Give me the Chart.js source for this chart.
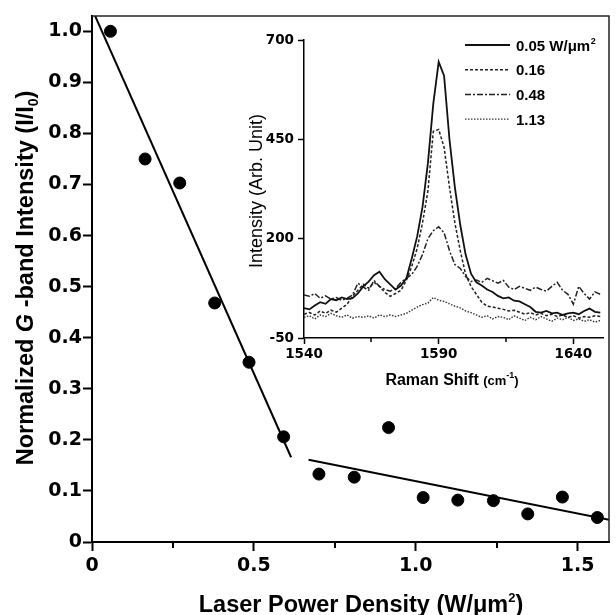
<!DOCTYPE html>
<html>
<head>
<meta charset="utf-8">
<script src="https://cdn.jsdelivr.net/npm/chart.js@4/dist/chart.umd.min.js"></script>
<style>
html, body { margin: 0; padding: 0; background: #fff; }
#wrap { position: relative; width: 616px; height: 615px; }
#wrap canvas { position: absolute; left: 0; top: 0; }
</style>
</head>
<body>
<div id="wrap">
  <canvas id="mainChart" width="616" height="615"></canvas>
  <canvas id="insetChart" width="616" height="615"></canvas>
</div>
<script>
// main plot: normalized G-band intensity vs laser power density
let powerDensity = [0.057, 0.164, 0.271, 0.379, 0.485, 0.592, 0.701, 0.810, 0.916, 1.023, 1.130, 1.240, 1.346, 1.453, 1.561];
let normIntensity = [1.000, 0.750, 0.703, 0.468, 0.352, 0.206, 0.133, 0.127, 0.224, 0.087, 0.082, 0.081, 0.055, 0.088, 0.048];
let fit1X = [0.009, 0.615];
let fit1Y = [1.031, 0.166];
let fit2X = [0.669, 1.600];
let fit2Y = [0.161, 0.043];
let mainXTicks = [0, 0.5, 1.0, 1.5];
let mainYTicks = [0, 0.1, 0.2, 0.3, 0.4, 0.5, 0.6, 0.7, 0.8, 0.9, 1.0];

// inset: Raman spectra
let ramanShift = [1540, 1542, 1544, 1546, 1548, 1550, 1552, 1554, 1556, 1558,
                  1560, 1562, 1564, 1566, 1568, 1570, 1572, 1574, 1576, 1578,
                  1580, 1582, 1584, 1586, 1588, 1590, 1592, 1594, 1596, 1598,
                  1600, 1602, 1604, 1606, 1608, 1610, 1612, 1614, 1616, 1618,
                  1620, 1622, 1624, 1626, 1628, 1630, 1632, 1634, 1636, 1638,
                  1640, 1642, 1644, 1646, 1648, 1650];
let spec005 = [25, 22, 32, 40, 36, 48, 45, 52, 48, 50,
               62, 80, 92, 108, 117, 98, 85, 72, 82, 100,
               150, 205, 280, 390, 540, 645, 610, 450, 330, 235,
               160, 112, 90, 82, 72, 66, 56, 50, 52, 44,
               42, 35, 28, 16, 14, 18, 12, 14, 8, 12,
               14, 10, 18, 24, 16, 14];
let spec016 = [10, 14, 8, 18, 12, 20, 15, 25, 35, 55,
               70, 85, 75, 90, 80, 65, 55, 62, 70, 95,
               130, 175, 240, 320, 470, 475, 430, 330, 240, 170,
               110, 80, 60, 40, 30, 28, 25, 22, 18, 20,
               15, 10, 14, 8, 12, 6, 10, 4, 8, 2,
               6, 0, 4, 2, 6, 4];
let spec048 = [58, 55, 62, 50, 56, 48, 52, 45, 50, 58,
               88, 78, 70, 95, 80, 72, 68, 75, 90, 100,
               110, 130, 160, 200, 220, 230, 215, 170, 135, 125,
               105, 92, 96, 90, 100, 94, 88, 95, 78, 72,
               80, 75, 70, 78, 72, 68, 80, 90, 70, 60,
               35, 80, 62, 48, 66, 60];
let spec113 = [2, 6, -2, 8, 4, 12, 6, 2, 8, 0,
               4, 2, 6, 0, 8, 4, 8, 4, 8, 12,
               20, 28, 34, 38, 52, 45, 42, 36, 30, 26,
               18, 14, 8, 2, 6, -2, 4, 2, -4, 6,
               0, -6, 2, -4, 4, -2, -8, 0, -4, 2,
               -6, -2, -8, -4, -10, -6];
let insetXTicks = [1540, 1590, 1640];
let insetYTicks = [-50, 200, 450, 700];
let insetLabels = ['0.05 W/\u03bcm\u00b2', '0.16', '0.48', '1.13'];

const ARIAL = '"Liberation Sans", Arial, sans-serif';
const WIDE = '"DejaVu Sans", "Liberation Sans", sans-serif';
Chart.defaults.color = '#000';
Chart.defaults.font.family = ARIAL;

function pts(xs, ys) {
    return xs.map((x, i) => ({ x: x, y: ys[i] }));
}

function drawRich(ctx, segs, x0, y0, rot) {
    ctx.save();
    ctx.translate(x0, y0);
    if (rot) ctx.rotate(rot);
    let w = 0;
    segs.forEach(s => { ctx.font = s.font; s.w = ctx.measureText(s.text).width; w += s.w; });
    let x = -w / 2;
    ctx.fillStyle = '#000';
    ctx.textAlign = 'left';
    ctx.textBaseline = 'alphabetic';
    segs.forEach(s => {
        ctx.font = s.font;
        ctx.fillText(s.text, x, s.dy || 0);
        x += s.w;
    });
    ctx.restore();
}

const minorTicks = {
    id: 'minorTicks',
    afterDraw(chart, args, opts) {
        const s = chart.scales.x, ctx = chart.ctx;
        const t = s.ticks.map(k => k.value);
        ctx.save();
        ctx.strokeStyle = '#000';
        ctx.lineWidth = opts.width;
        for (let i = 0; i < t.length - 1; i++) {
            const px = Math.round(s.getPixelForValue((t[i] + t[i + 1]) / 2));
            ctx.beginPath();
            ctx.moveTo(px, s.top);
            ctx.lineTo(px, s.top + opts.len);
            ctx.stroke();
        }
        ctx.restore();
    }
};

const mainFrame = {
    id: 'mainFrame',
    afterDraw(chart) {
        const a = chart.chartArea, ctx = chart.ctx;
        ctx.save();
        ctx.strokeStyle = '#222';
        ctx.lineWidth = 1.5;
        ctx.beginPath();
        ctx.moveTo(a.left, a.top);
        ctx.lineTo(a.right, a.top);
        ctx.lineTo(a.right, a.bottom);
        ctx.stroke();
        ctx.restore();

        const b = 'bold 23.5px ' + ARIAL;
        drawRich(ctx, [
            { text: 'Laser Power Density (W/\u03bcm', font: b },
            { text: '2', font: 'bold 13px ' + ARIAL, dy: -10 },
            { text: ')', font: b }
        ], 361, 612, 0);
        drawRich(ctx, [
            { text: 'Normalized ', font: b },
            { text: 'G', font: 'italic ' + b },
            { text: ' -band Intensity (I/I', font: b },
            { text: '0', font: 'bold 14px ' + ARIAL, dy: 5 },
            { text: ')', font: b }
        ], 33, 278, -Math.PI / 2);
    }
};

const insetDecor = {
    id: 'insetDecor',
    afterDraw(chart) {
        const a = chart.chartArea, ctx = chart.ctx;
        chart.data.datasets.forEach((ds, i) => {
            const y = a.top + 5 + i * 24.7;
            ctx.save();
            ctx.strokeStyle = ds.borderColor;
            ctx.lineWidth = ds.borderWidth;
            ctx.setLineDash(ds.borderDash || []);
            ctx.beginPath();
            ctx.moveTo(a.right - 138, y);
            ctx.lineTo(a.right - 93, y);
            ctx.stroke();
            ctx.setLineDash([]);
            ctx.fillStyle = '#000';
            ctx.font = 'bold 15px ' + ARIAL;
            ctx.textBaseline = 'alphabetic';
            let txt = ds.label;
            const sup = txt.endsWith('\u00b2');
            if (sup) txt = txt.slice(0, -1);
            ctx.fillText(txt, a.right - 87, y + 5.5);
            if (sup) {
                const w = ctx.measureText(txt).width;
                ctx.font = 'bold 9px ' + ARIAL;
                ctx.fillText('2', a.right - 87 + w + 0.5, y - 1.5);
            }
            ctx.restore();
        });

        drawRich(ctx, [
            { text: 'Raman Shift ', font: 'bold 16px ' + ARIAL },
            { text: '(cm', font: 'bold 13px ' + ARIAL },
            { text: '-1', font: 'bold 9px ' + ARIAL, dy: -7 },
            { text: ')', font: 'bold 13px ' + ARIAL }
        ], 452, 385, 0);
        drawRich(ctx, [
            { text: 'Intensity (Arb. Unit)', font: '18px ' + ARIAL }
        ], 262, 191, -Math.PI / 2);
    }
};

new Chart(document.getElementById('mainChart'), {
    type: 'scatter',
    data: {
        datasets: [{
            data: pts(fit1X, fit1Y),
            showLine: true,
            borderColor: '#000',
            borderWidth: 2,
            pointRadius: 0,
            order: 2
        }, {
            data: pts(fit2X, fit2Y),
            showLine: true,
            borderColor: '#000',
            borderWidth: 2,
            pointRadius: 0,
            order: 2
        }, {
            data: pts(powerDensity, normIntensity),
            backgroundColor: '#000',
            borderColor: '#000',
            pointRadius: 6,
            order: 1
        }]
    },
    options: {
        responsive: false,
        animation: false,
        devicePixelRatio: 1,
        layout: { padding: { left: 0, top: 16, right: 1, bottom: 0 } },
        plugins: {
            legend: { display: false },
            tooltip: { enabled: false },
            minorTicks: { len: 6, width: 2 }
        },
        scales: {
            x: {
                type: 'linear',
                min: 0,
                max: 1.597,
                afterFit(s) { s.height = 73; },
                afterBuildTicks(s) { s.ticks = mainXTicks.map(v => ({ value: v })); },
                grid: { drawOnChartArea: false, tickLength: 9, tickWidth: 2, tickColor: '#000' },
                border: { color: '#000', width: 2 },
                ticks: {
                    padding: 4,
                    color: '#000',
                    font: { family: WIDE, size: 19, weight: 'bold' },
                    callback: v => v === 0 ? '0' : v.toFixed(1)
                }
            },
            y: {
                type: 'linear',
                min: 0,
                max: 1.03,
                afterFit(s) { s.width = 92; },
                afterBuildTicks(s) { s.ticks = mainYTicks.map(v => ({ value: v })); },
                grid: { drawOnChartArea: false, tickLength: 9, tickWidth: 2, tickColor: '#000' },
                border: { color: '#000', width: 2 },
                ticks: {
                    padding: 1,
                    color: '#000',
                    font: { family: WIDE, size: 19, weight: 'bold' },
                    callback: v => v === 0 ? '0' : v.toFixed(1)
                }
            }
        }
    },
    plugins: [minorTicks, mainFrame]
});

new Chart(document.getElementById('insetChart'), {
    type: 'scatter',
    data: {
        datasets: [{
            label: insetLabels[0],
            data: pts(ramanShift, spec005),
            showLine: true,
            borderColor: '#111',
            borderWidth: 1.8,
            pointRadius: 0
        }, {
            label: insetLabels[1],
            data: pts(ramanShift, spec016),
            showLine: true,
            borderColor: '#222',
            borderWidth: 1.5,
            borderDash: [3, 2],
            pointRadius: 0
        }, {
            label: insetLabels[2],
            data: pts(ramanShift, spec048),
            showLine: true,
            borderColor: '#222',
            borderWidth: 1.5,
            borderDash: [6, 2, 2, 2],
            pointRadius: 0
        }, {
            label: insetLabels[3],
            data: pts(ramanShift, spec113),
            showLine: true,
            borderColor: '#333',
            borderWidth: 1.4,
            borderDash: [1.5, 1.5],
            pointRadius: 0
        }]
    },
    options: {
        responsive: false,
        animation: false,
        devicePixelRatio: 1,
        layout: { padding: { left: 0, top: 40, right: 13, bottom: 0 } },
        plugins: {
            legend: { display: false },
            tooltip: { enabled: false },
            minorTicks: { len: 4, width: 1.5 }
        },
        scales: {
            x: {
                type: 'linear',
                min: 1540,
                max: 1651,
                afterFit(s) { s.height = 277; },
                afterBuildTicks(s) { s.ticks = insetXTicks.map(v => ({ value: v })); },
                grid: { drawOnChartArea: false, tickLength: 6, tickWidth: 1.5, tickColor: '#000' },
                border: { color: '#000', width: 1.5 },
                ticks: {
                    padding: 2,
                    color: '#000',
                    font: { family: WIDE, size: 13.5, weight: 'bold' },
                    callback: v => String(v)
                }
            },
            y: {
                type: 'linear',
                min: -50,
                max: 700,
                afterFit(s) { s.width = 304; },
                afterBuildTicks(s) { s.ticks = insetYTicks.map(v => ({ value: v })); },
                grid: { drawOnChartArea: false, tickLength: 6, tickWidth: 1.5, tickColor: '#000' },
                border: { color: '#000', width: 1.5 },
                ticks: {
                    padding: 4,
                    color: '#000',
                    font: { family: WIDE, size: 13.5, weight: 'bold' },
                    callback: v => String(v)
                }
            }
        }
    },
    plugins: [minorTicks, insetDecor]
});
</script>
</body>
</html>
